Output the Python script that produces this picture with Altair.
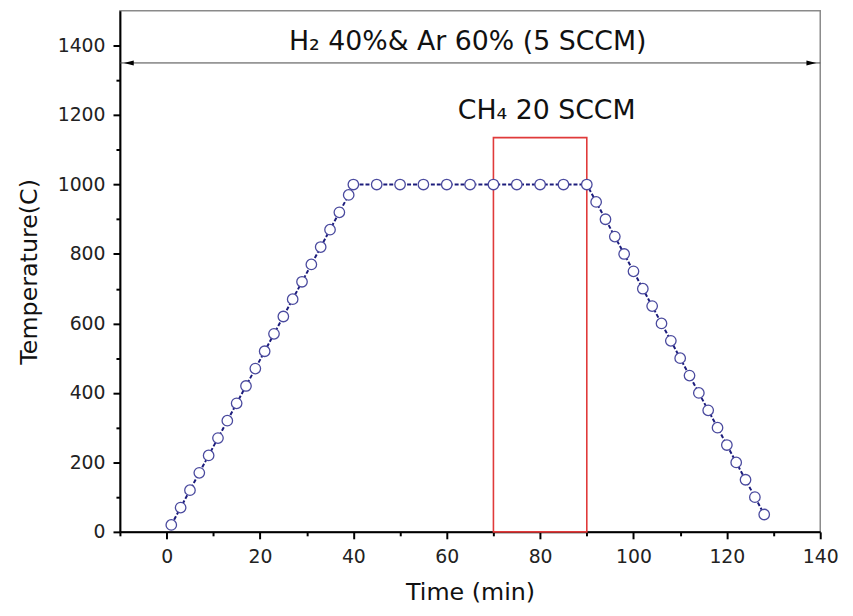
import altair as alt
import pandas as pd

# ---- data ----
time_min = [1, 3, 5, 7, 9, 11, 13, 15, 17, 19, 21, 23, 25, 27, 29, 31, 33, 35, 37, 39,
            40, 45, 50, 55, 60, 65, 70, 75, 80, 85, 90,
            92, 94, 96, 98, 100, 102, 104, 106, 108, 110, 112, 114, 116, 118, 120, 122, 124, 126, 128]
temperature = [20, 70, 120, 170, 220, 270, 320, 370, 420, 470, 520, 570, 620, 670, 720, 770, 820, 870, 920, 970,
               1000, 1000, 1000, 1000, 1000, 1000, 1000, 1000, 1000, 1000, 1000,
               950, 900, 850, 800, 750, 700, 650, 600, 550, 500, 450, 400, 350, 300, 250, 200, 150, 100, 50]

x_ticks = [-10, 0, 10, 20, 30, 40, 50, 60, 70, 80, 90, 100, 110, 120, 130, 140]
y_ticks = [0, 100, 200, 300, 400, 500, 600, 700, 800, 900, 1000, 1100, 1200, 1300, 1400]

box_x = [70]
box_x2 = [90]
box_y = [0]
box_y2 = [1135]

arrow_x = [-10]
arrow_x2 = [140]
arrow_y = [1350]
head_x = [-8.1, 138.1]
head_dir = ["left", "right"]

label_text = ["H\u2082 40%& Ar 60% (5 SCCM)", "CH\u2084 20 SCCM"]
label_x = [64.5, 81.4]
label_y = [1410, 1212]

FONT = "DejaVu Sans"

df = pd.DataFrame({"t": time_min, "temp": temperature})
box = pd.DataFrame({"x": box_x, "x2": box_x2, "y": box_y, "y2": box_y2})
arrow = pd.DataFrame({"x": arrow_x, "x2": arrow_x2, "y": arrow_y})
heads = pd.DataFrame({"x": head_x, "y": arrow_y * 2, "dir": head_dir})
labels = pd.DataFrame({"x": label_x, "y": label_y, "text": label_text})

xscale = alt.Scale(domain=[-10, 140], nice=False, zero=False)
yscale = alt.Scale(domain=[0, 1500], nice=False, zero=False)

xaxis = alt.Axis(
    values=x_ticks,
    labelExpr="datum.value % 20 === 0 ? datum.label : ''",
    tickSize={"condition": {"test": "datum.value % 20 === 0", "value": 7}, "value": 4},
    title="Time (min)",
    grid=False, domainColor="black", domainWidth=2, tickColor="black", tickWidth=2,
    labelFont=FONT, labelFontSize=19, labelColor="#222", labelPadding=9,
    labelOverlap=False, labelFlush=False,
    titleFont=FONT, titleFontSize=24, titleFontWeight="normal", titleColor="#111", titlePadding=14,
)
yaxis = alt.Axis(
    values=y_ticks,
    labelExpr="datum.value % 200 === 0 ? datum.label : ''",
    tickSize={"condition": {"test": "datum.value % 200 === 0", "value": 7}, "value": 4},
    title="Temperature(C)", format="d",
    grid=False, domainColor="black", domainWidth=2, tickColor="black", tickWidth=2,
    labelFont=FONT, labelFontSize=19, labelColor="#222", labelPadding=8,
    labelOverlap=False, labelFlush=False,
    titleFont=FONT, titleFontSize=24, titleFontWeight="normal", titleColor="#111", titlePadding=16,
)


def X(field):
    return alt.X(field, type="quantitative", scale=xscale, axis=xaxis)


def Y(field):
    return alt.Y(field, type="quantitative", scale=yscale, axis=yaxis)


line = alt.Chart(df).mark_line(color="#1c1c7c", strokeWidth=2, strokeDash=[4, 2]).encode(
    x=X("t"), y=Y("temp")
)
points = alt.Chart(df).mark_point(
    shape="circle", size=112, filled=False, fill="white", fillOpacity=1,
    stroke="#4a4a9e", strokeWidth=1.3, opacity=1
).encode(x=X("t"), y=Y("temp"))

rect = alt.Chart(box).mark_rect(fill=None, fillOpacity=0, stroke="#e03a3a", strokeWidth=1.6).encode(
    x=X("x"), x2="x2", y=Y("y"), y2="y2"
)

arrow_line = alt.Chart(arrow).mark_rule(color="#444", strokeWidth=1).encode(
    x=X("x"), x2="x2", y=Y("y")
)
head_l = alt.Chart(heads[heads["dir"] == "left"]).mark_point(
    shape="M-1,0L1,-0.5L1,0.5Z", size=100, filled=True, color="black", opacity=1
).encode(x=X("x"), y=Y("y"))
head_r = alt.Chart(heads[heads["dir"] == "right"]).mark_point(
    shape="M1,0L-1,-0.5L-1,0.5Z", size=100, filled=True, color="black", opacity=1
).encode(x=X("x"), y=Y("y"))

texts = alt.Chart(labels).mark_text(
    font=FONT, fontSize=27, color="#111", align="center", baseline="middle"
).encode(x=X("x"), y=Y("y"), text="text:N")

chart = alt.layer(rect, arrow_line, head_l, head_r, line, points, texts).properties(
    width=707, height=526,
    autosize=alt.AutoSizeParams(type="none"),
    padding={"left": 113, "top": 0, "right": 25, "bottom": 74},
).configure_view(stroke="#8a8a8a", strokeWidth=1.5)

chart.save("out.html", embed_options={"renderer": "svg", "actions": False})
